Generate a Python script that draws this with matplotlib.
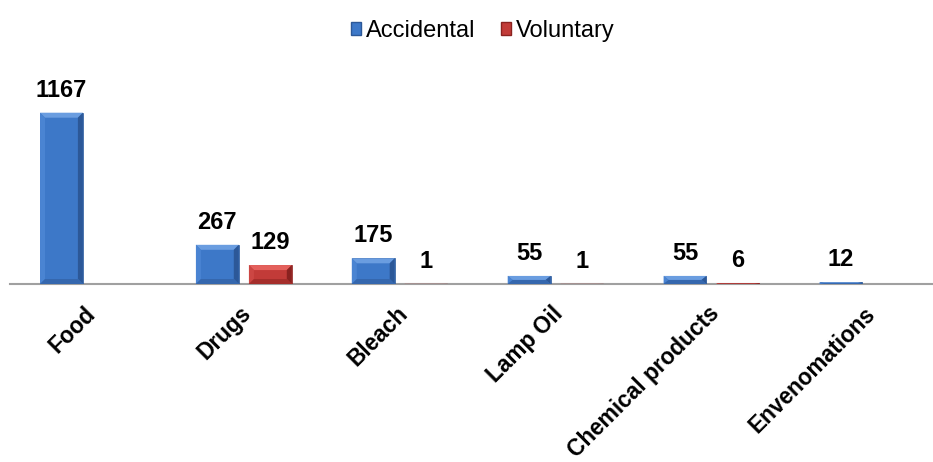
import numpy as np
import matplotlib
matplotlib.use("Agg")
import matplotlib.pyplot as plt
from matplotlib.patches import Polygon, Patch
from matplotlib.transforms import ScaledTranslation

# -----------------------
# Data
# -----------------------
categories = ["Food", "Drugs", "Bleach", "Lamp Oil", "Chemical products", "Envenomations"]
accidental = [1167, 267, 175, 55, 55, 12]
voluntary = [np.nan, 129, 1, 1, 6, np.nan]
series_names = ["Accidental", "Voluntary"]

# -----------------------
# Style
# -----------------------
blue = {"face": "#3D78C8", "top": "#6A9DE0", "left": "#4A84D2", "right": "#2C5898", "bottom": "#3567AE"}
red = {"face": "#C23B38", "top": "#E4605C", "left": "#CC4643", "right": "#8A2220", "bottom": "#A52E2B"}
text = "#000000"

plt.rcParams.update({
    "font.family": ["Liberation Sans", "DejaVu Sans"],
    "font.size": 17,
})

W, H = 933, 462
fig = plt.figure(figsize=(W / 100, H / 100), dpi=100)

ax_left, ax_right = 10, 933
ax_bottom, ax_top = 284, 60
ax = fig.add_axes([ax_left / W, 1 - ax_bottom / H, (ax_right - ax_left) / W, (ax_bottom - ax_top) / H])

x = np.arange(len(categories))
bar_w = 0.275
off = 0.17
px_per_unit = 171.3 / 1167

ax.set_xlim(-0.5, -0.5 + (ax_right - ax_left) / 155.9)
ax.set_ylim(0, (ax_bottom - ax_top) / px_per_unit)


def bevel_bars(bars, pal, bevel_px=5):
    # fake the Excel bevel look with four facets on top of each bar
    to_disp = ax.transData
    sx = to_disp.transform((1, 0))[0] - to_disp.transform((0, 0))[0]
    sy = to_disp.transform((0, 1))[1] - to_disp.transform((0, 0))[1]
    for b in bars:
        x0, y0 = b.get_x(), b.get_y()
        x1, y1 = x0 + b.get_width(), y0 + b.get_height()
        if b.get_height() <= 0 or np.isnan(b.get_height()):
            continue
        dx = bevel_px / sx
        dy = min(bevel_px / sy, b.get_height() / 2)
        facets = {
            "top": [(x0, y1), (x1, y1), (x1 - dx, y1 - dy), (x0 + dx, y1 - dy)],
            "left": [(x0, y1), (x0 + dx, y1 - dy), (x0 + dx, y0 + dy), (x0, y0)],
            "right": [(x1, y1), (x1, y0), (x1 - dx, y0 + dy), (x1 - dx, y1 - dy)],
            "bottom": [(x0, y0), (x0 + dx, y0 + dy), (x1 - dx, y0 + dy), (x1, y0)],
        }
        for k, pts in facets.items():
            ax.add_patch(Polygon(pts, closed=True, facecolor=pal[k], edgecolor="none", zorder=3))


acc_bars = ax.bar(x - off, accidental, bar_w, color=blue["face"], edgecolor=blue["right"], linewidth=0.5, zorder=2)
vol_bars = ax.bar(x + off, np.nan_to_num(voluntary), bar_w, color=red["face"], edgecolor=red["right"], linewidth=0.5, zorder=2)
bevel_bars(acc_bars, blue)
bevel_bars(vol_bars, red)

# -----------------------
# Value labels
# -----------------------
for xs, vals in [(x - off, accidental), (x + off, voluntary)]:
    for xi, v in zip(xs, vals):
        if np.isnan(v):
            continue
        ax.annotate(str(int(v)), (xi, v), xytext=(0, 11.5), textcoords="offset points",
                    ha="center", va="baseline", fontsize=17, fontweight="bold", color=text)

# -----------------------
# Axes
# -----------------------
for s in ["top", "right", "left"]:
    ax.spines[s].set_visible(False)
ax.spines["bottom"].set_color("#A0A0A0")
ax.spines["bottom"].set_linewidth(1.5)
ax.spines["bottom"].set_zorder(1)
ax.set_yticks([])
ax.set_xticks(x)
ax.set_xticklabels(categories, rotation=45, ha="right", rotation_mode="anchor",
                   fontsize=16.3, fontweight="bold", color=text)
ax.tick_params(axis="x", length=0, pad=13)
shift = ScaledTranslation(-4 / 100, 0, fig.dpi_scale_trans)
for lab in ax.get_xticklabels():
    lab.set_transform(lab.get_transform() + shift)

# -----------------------
# Legend
# -----------------------
handles = [Patch(facecolor=blue["face"], edgecolor=blue["right"]),
           Patch(facecolor=red["face"], edgecolor=red["right"])]
fig.legend(handles, series_names, loc="center", bbox_to_anchor=(483 / W, 1 - 31 / H),
           ncol=2, frameon=False, fontsize=17, handlelength=0.42, handleheight=0.42,
           handletextpad=0.2, columnspacing=1.1)

plt.savefig("out.png", dpi=100)
plt.close()
